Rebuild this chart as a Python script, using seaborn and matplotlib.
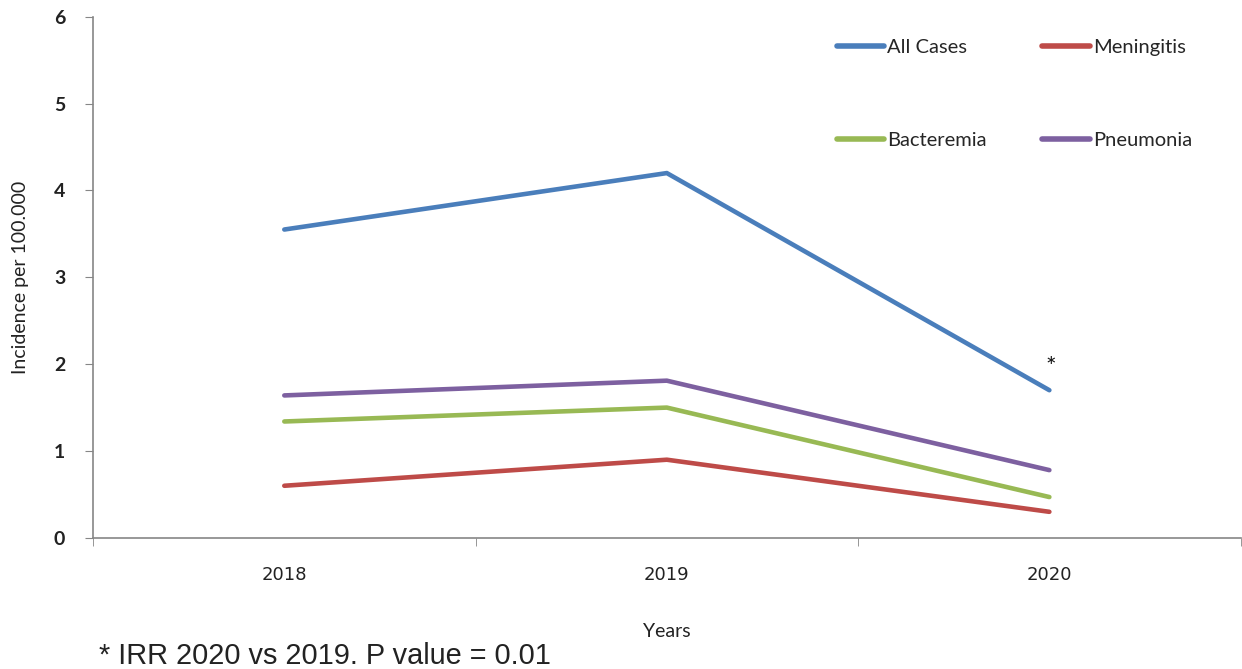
import pandas as pd
import matplotlib.pyplot as plt
import seaborn as sns

years = ["2018", "2019", "2020"]
all_cases = [3.55, 4.20, 1.70]
meningitis = [0.60, 0.90, 0.30]
bacteremia = [1.34, 1.50, 0.47]
pneumonia = [1.64, 1.81, 0.78]

series = ["All Cases", "Bacteremia", "Meningitis", "Pneumonia"]
colors = {"All Cases": "#4a7ebb", "Meningitis": "#be4b48",
          "Bacteremia": "#98b954", "Pneumonia": "#7d60a0"}

df = pd.DataFrame({
    "year": years * 4,
    "x": [0, 1, 2] * 4,
    "value": all_cases + bacteremia + meningitis + pneumonia,
    "series": [s for s in series for _ in years],
})

sns.set_style("white")
plt.rcParams["font.family"] = ["Lato", "DejaVu Sans"]

fig = plt.figure(figsize=(12.42, 6.69), dpi=100)
ax = fig.add_axes([0.0749, 0.196, 0.924, 0.779])

sns.lineplot(data=df, x="x", y="value", hue="series", hue_order=series,
             palette=colors, linewidth=3.3, ax=ax, solid_capstyle="round")

# * marker next to 2020 all cases point
ax.annotate("*", (2, all_cases[2]), xytext=(1, 8), textcoords="offset points",
            ha="center", va="bottom", fontsize=18, color="#111111")

ax.set_xlim(-0.5, 2.5)
ax.set_ylim(0, 6)
ax.set_xticks([0, 1, 2])
ax.set_xticklabels(years, fontsize=13, family="Liberation Sans Narrow")
ax.set_xticks([-0.5, 0.5, 1.5, 2.5], minor=True)
ax.tick_params(axis="x", which="major", length=0, pad=20, colors="#222222")
ax.tick_params(axis="x", which="minor", length=6, color="#868686", direction="out", bottom=True)
ax.set_yticks(range(7))
ax.tick_params(axis="y", length=6, color="#868686", direction="out", left=True,
               labelsize=14, labelcolor="#222222", pad=14)
for t in ax.get_yticklabels():
    t.set_fontweight("bold")

sns.despine(ax=ax)
for s in ["left", "bottom"]:
    ax.spines[s].set_color("#868686")
    ax.spines[s].set_linewidth(1.2)

ax.set_xlabel("Years", fontsize=14, labelpad=28, color="#222222")
ax.set_ylabel("Incidence per 100.000", fontsize=14, labelpad=18, color="#222222")

handles, labels = ax.get_legend_handles_labels()
leg = ax.legend(handles, labels, ncol=2, frameon=False, loc="upper left",
                bbox_to_anchor=(0.6594, 0.969), bbox_transform=fig.transFigure,
                fontsize=14.5, handlelength=2.35, handletextpad=0.15,
                labelspacing=3.75, columnspacing=2.75)
for line in leg.get_lines():
    line.set_linewidth(4)

fig.text(0.08, 0.008, "* IRR 2020 vs 2019. P value = 0.01", fontsize=20.8,
         family="Liberation Sans", color="#222222")

fig.savefig("out.png", dpi=100)
